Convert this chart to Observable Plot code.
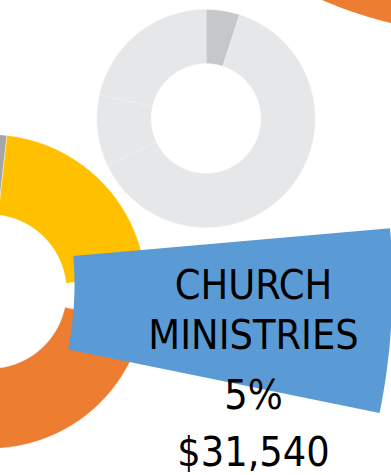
<!DOCTYPE html>
<html><head><meta charset="utf-8">
<script src="https://cdn.jsdelivr.net/npm/d3@7"></script>
<script src="https://cdn.jsdelivr.net/npm/@observablehq/plot@0.6"></script>
<style>html,body{margin:0;padding:0;background:#fff;overflow:hidden}</style>
</head><body><div id="chart"></div>
<script>
// ---- data ----
const categories = ["Church Ministries", "Segment B", "Segment C", "Segment D"];
const shares = [5, 63, 10.5, 21.5];            // percent, clockwise order
const mainColors = ["#5B9BD5", "#ED7D31", "#A5A5A5", "#FFC000"];
const greyColors = ["#C6C7C9", "#E6E7E8", "#E6E7E8", "#E6E7E8"];
const labelLines = ["CHURCH", "MINISTRIES", "5%", "$31,540"];
const neighbourCategories = ["Neighbour chart slice"];
const neighbourShares = [25];
const neighbourColors = ["#ED7D31"];

// ---- layout ----
const W = 391, H = 475;
const mainDonut = {cx: -11, cy: 291, r0: 77, r1: 157, start: 83.8};
const greyDonut = {cx: 205.5, cy: 118, r0: 55, r1: 109, start: 0};
const exploded = {cx: -252, cy: 284, r0: 326, r1: 644, padStart: 1.2, padEnd: 0.3};
const neighbour = {cx: 488, cy: -385, r0: 250, r1: 419, start: 150};
const labelX = 253;
const labelBaselines = [298, 348, 408, 465];

function slices(values, start) {
  const total = d3.sum(values);
  let a = start;
  return values.map((v, i) => {
    const a0 = a, a1 = a + v / total * 360;
    a = a1;
    return {i, a0, a1};
  });
}
function ring(id, cx, cy, r0, r1, a0, a1, color) {
  const pts = [];
  const n = Math.max(2, Math.ceil((a1 - a0) / 0.5));
  const pt = (r, a) => {
    const t = a * Math.PI / 180;
    return {id, color, x: cx + r * Math.sin(t), y: cy - r * Math.cos(t)};
  };
  for (let k = 0; k <= n; k++) pts.push(pt(r1, a0 + (a1 - a0) * k / n));
  for (let k = n; k >= 0; k--) pts.push(pt(r0, a0 + (a1 - a0) * k / n));
  pts.push(pts[0]);
  return pts;
}

const mainSl = slices(shares, mainDonut.start);
const greySl = slices(shares, greyDonut.start);
const nbSl = slices(neighbourShares.concat([100 - neighbourShares[0]]), neighbour.start).slice(0, 1);

const mainPts = mainSl.filter(s => s.i !== 0).flatMap(s =>
  ring("m" + s.i, mainDonut.cx, mainDonut.cy, mainDonut.r0, mainDonut.r1, s.a0, s.a1, mainColors[s.i]));
const greyPts = greySl.flatMap(s =>
  ring("g" + s.i, greyDonut.cx, greyDonut.cy, greyDonut.r0, greyDonut.r1, s.a0, s.a1, greyColors[s.i]));
const cs = mainSl[0];
const explodedPts = ring("e0", exploded.cx, exploded.cy, exploded.r0, exploded.r1,
  cs.a0 + exploded.padStart, cs.a1 - exploded.padEnd, mainColors[0]);
const nbPts = nbSl.flatMap(s =>
  ring("n" + s.i, neighbour.cx, neighbour.cy, neighbour.r0, neighbour.r1, s.a0, s.a1, neighbourColors[s.i]));

const chart = Plot.plot({
  width: W, height: H, margin: 0,
  x: {domain: [0, W], range: [0, W], axis: null},
  y: {domain: [0, H], range: [0, H], axis: null},
  color: {type: "identity"},
  style: {background: "white", overflow: "hidden"},
  marks: [
    Plot.line(nbPts, {x: "x", y: "y", z: "id", fill: "color", stroke: "none", clip: true}),
    Plot.line(greyPts, {x: "x", y: "y", z: "id", fill: "color", stroke: "#F0F0F1", strokeWidth: 0.6, clip: true}),
    Plot.line(mainPts, {x: "x", y: "y", z: "id", fill: "color", stroke: "#ffffff", strokeWidth: 0.4, clip: true}),
    Plot.line(explodedPts, {x: "x", y: "y", z: "id", fill: "color", stroke: "none", clip: true}),
    Plot.text(labelLines, {
      x: () => labelX, y: (d, i) => labelBaselines[i], text: d => d,
      textAnchor: "middle", lineAnchor: "bottom",
      fontFamily: "DejaVu Sans Condensed", fontSize: 41, fill: "#000", clip: true
    })
  ]
});
document.getElementById("chart").append(chart);
</script>
</body></html>
